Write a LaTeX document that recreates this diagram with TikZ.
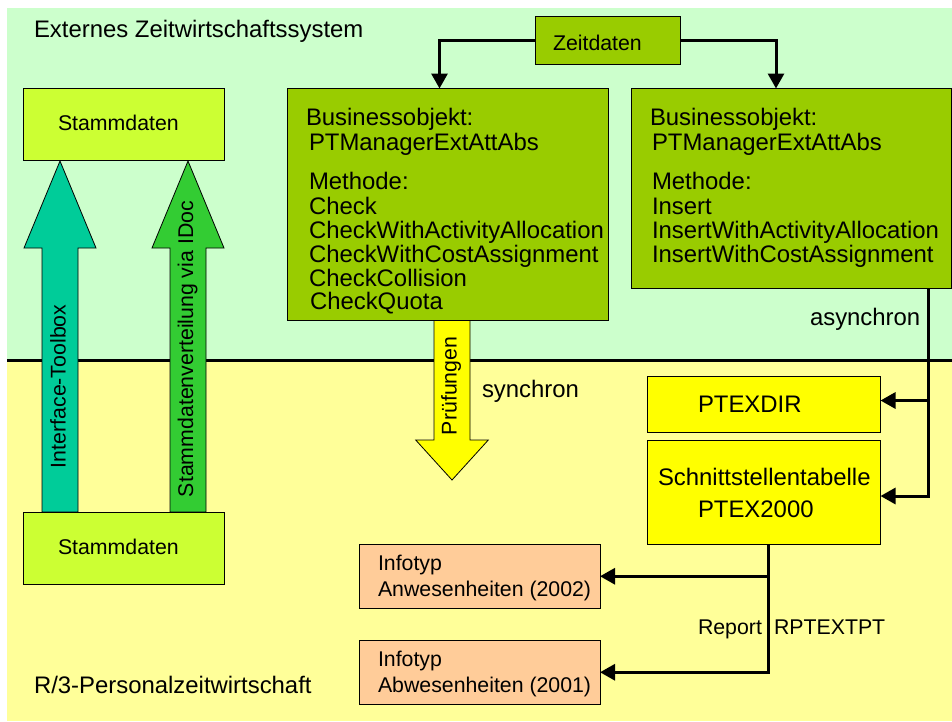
\documentclass[tikz,border=0pt]{standalone}
\usepackage{fontspec}
\setmainfont{Liberation Sans}
\usetikzlibrary{arrows.meta}
\definecolor{bgtop}{HTML}{CCFFCC}
\definecolor{bgbot}{HTML}{FFFF99}
\definecolor{lime}{HTML}{CCFF33}
\definecolor{olivegreen}{HTML}{99CC00}
\definecolor{teal1}{HTML}{00CC99}
\definecolor{green1}{HTML}{33CC33}
\definecolor{yel}{HTML}{FFFF00}
\definecolor{peach}{HTML}{FFCC99}
\tikzset{
  box/.style={draw=black,line width=0.9pt,inner sep=0pt,outer sep=0pt},
  txt/.style={anchor=base west,inner sep=0pt,outer sep=0pt,text=black,font=\fontsize{21.3}{24}\selectfont},
  big/.style={txt,font=\fontsize{23.9}{26}\selectfont},
  vtxt/.style={txt,rotate=90},
  bigarrow/.style={draw=black,line width=0.8pt,line join=miter},
  conn/.style={draw=black,line width=3pt},
  connarrow/.style={conn,-{Triangle[length=15pt,width=16pt]}}
}
\begin{document}
\begin{tikzpicture}[x=1pt,y=-1pt]
\useasboundingbox (0,0) rectangle (952,721);
% backgrounds
\fill[bgtop] (7,8) rectangle (952,360);
\fill[bgbot] (7,360) rectangle (952,721);
\draw[black,line width=3pt] (7,360) -- (952,360);
% large arrows
\draw[bigarrow,fill=teal1] (60,161) -- (96,248) -- (78,248) -- (78,512) -- (42,512) -- (42,248) -- (24,248) -- cycle;
\draw[bigarrow,fill=green1] (188,161) -- (224,248) -- (206,248) -- (206,512) -- (170,512) -- (170,248) -- (152,248) -- cycle;
\draw[bigarrow,fill=yel] (434,320) -- (470,320) -- (470,440) -- (488.3,440) -- (452,480) -- (415.7,440) -- (434,440) -- cycle;
% boxes
\node[box,fill=lime,minimum width=200.5pt,minimum height=72pt] (st1) at (123.75,124.5) {};
\node[box,fill=lime,minimum width=200.5pt,minimum height=72.5pt] (st2) at (123.75,548.25) {};
\node[box,fill=olivegreen,minimum width=144.5pt,minimum height=48pt] (zeit) at (607.75,40) {};
\node[box,fill=olivegreen,minimum width=320.5pt,minimum height=232pt] (bo1) at (447.75,204.5) {};
\node[box,fill=olivegreen,minimum width=319.5pt,minimum height=199.5pt] (bo2) at (791.25,188.25) {};
\node[box,fill=yel,minimum width=233pt,minimum height=56.5pt] (ptexdir) at (764,404.25) {};
\node[box,fill=yel,minimum width=233pt,minimum height=104.5pt] (schnitt) at (764,492.25) {};
\node[box,fill=peach,minimum width=240.5pt,minimum height=64.5pt] (inf1) at (479.75,576.25) {};
\node[box,fill=peach,minimum width=240.5pt,minimum height=64.5pt] (inf2) at (479.75,672.25) {};
% connectors
\draw[connarrow] (zeit.west) -| ([xshift=-8.25]bo1.north);
\draw[connarrow] (zeit.east) -| ([xshift=-15.25]bo2.north);
\draw[connarrow] ([xshift=137.25]bo2.south) |- ([yshift=-3.75]schnitt.east);
\coordinate (j1) at (928.5,400.5);
\draw[connarrow] (j1) -- (ptexdir.east |- j1);
\draw[connarrow] ([xshift=4.5]schnitt.south) |- (inf2.east);
\coordinate (j2) at (768.5,576.25);
\draw[connarrow] (j2) -- (inf1.east);
% texts
\node[big] (t1) at (34,37) {Externes Zeitwirtschaftssystem};
\node[big] (t2) at (34,693) {R/3-Personalzeitwirtschaft};
\node[txt] (t3) at (58,130) {Stammdaten};
\node[txt] (t4) at (58,554) {Stammdaten};
\node[txt] (t5) at (553,50) {Zeitdaten};
\node[big] (a1) at (306,125) {Businessobjekt:};
\node[big] (a2) at (309,150.5) {PTManagerExtAttAbs};
\node[big] (a3) at (309,189.5) {Methode:};
\node[big] (a4) at (309,214) {Check};
\node[big] (a5) at (309,238) {CheckWithActivityAllocation};
\node[big] (a6) at (309,262) {CheckWithCostAssignment};
\node[big] (a7) at (309,286) {CheckCollision};
\node[big] (a8) at (310,309) {CheckQuota};
\node[big] (b1) at (650,125) {Businessobjekt:};
\node[big] (b2) at (652,150.5) {PTManagerExtAttAbs};
\node[big] (b3) at (652,189.5) {Methode:};
\node[big] (b4) at (652,214) {Insert};
\node[big] (b5) at (652,238) {InsertWithActivityAllocation};
\node[big] (b6) at (652,262) {InsertWithCostAssignment};
\node[big] (l1) at (810,325) {asynchron};
\node[big] (l2) at (482,397) {synchron};
\node[big] (p1) at (698,412.5) {PTEXDIR};
\node[big] (p2) at (658,485) {Schnittstellentabelle};
\node[big] (p3) at (698,517) {PTEX2000};
\node[txt] (r1) at (698,634) {Report};
\node[txt] (r2) at (774,634) {RPTEXTPT};
\node[txt] (i1) at (378,570) {Infotyp};
\node[txt] (i2) at (378,596) {Anwesenheiten (2002)};
\node[txt] (i3) at (378,666) {Infotyp};
\node[txt] (i4) at (378,692) {Abwesenheiten (2001)};
\node[vtxt] (v1) at (65.7,468) {Interface-Toolbox};
\node[vtxt] (v2) at (193,497) {Stammdatenverteilung via IDoc};
\node[vtxt] (v3) at (456.7,435) {Prüfungen};
\end{tikzpicture}
\end{document}
